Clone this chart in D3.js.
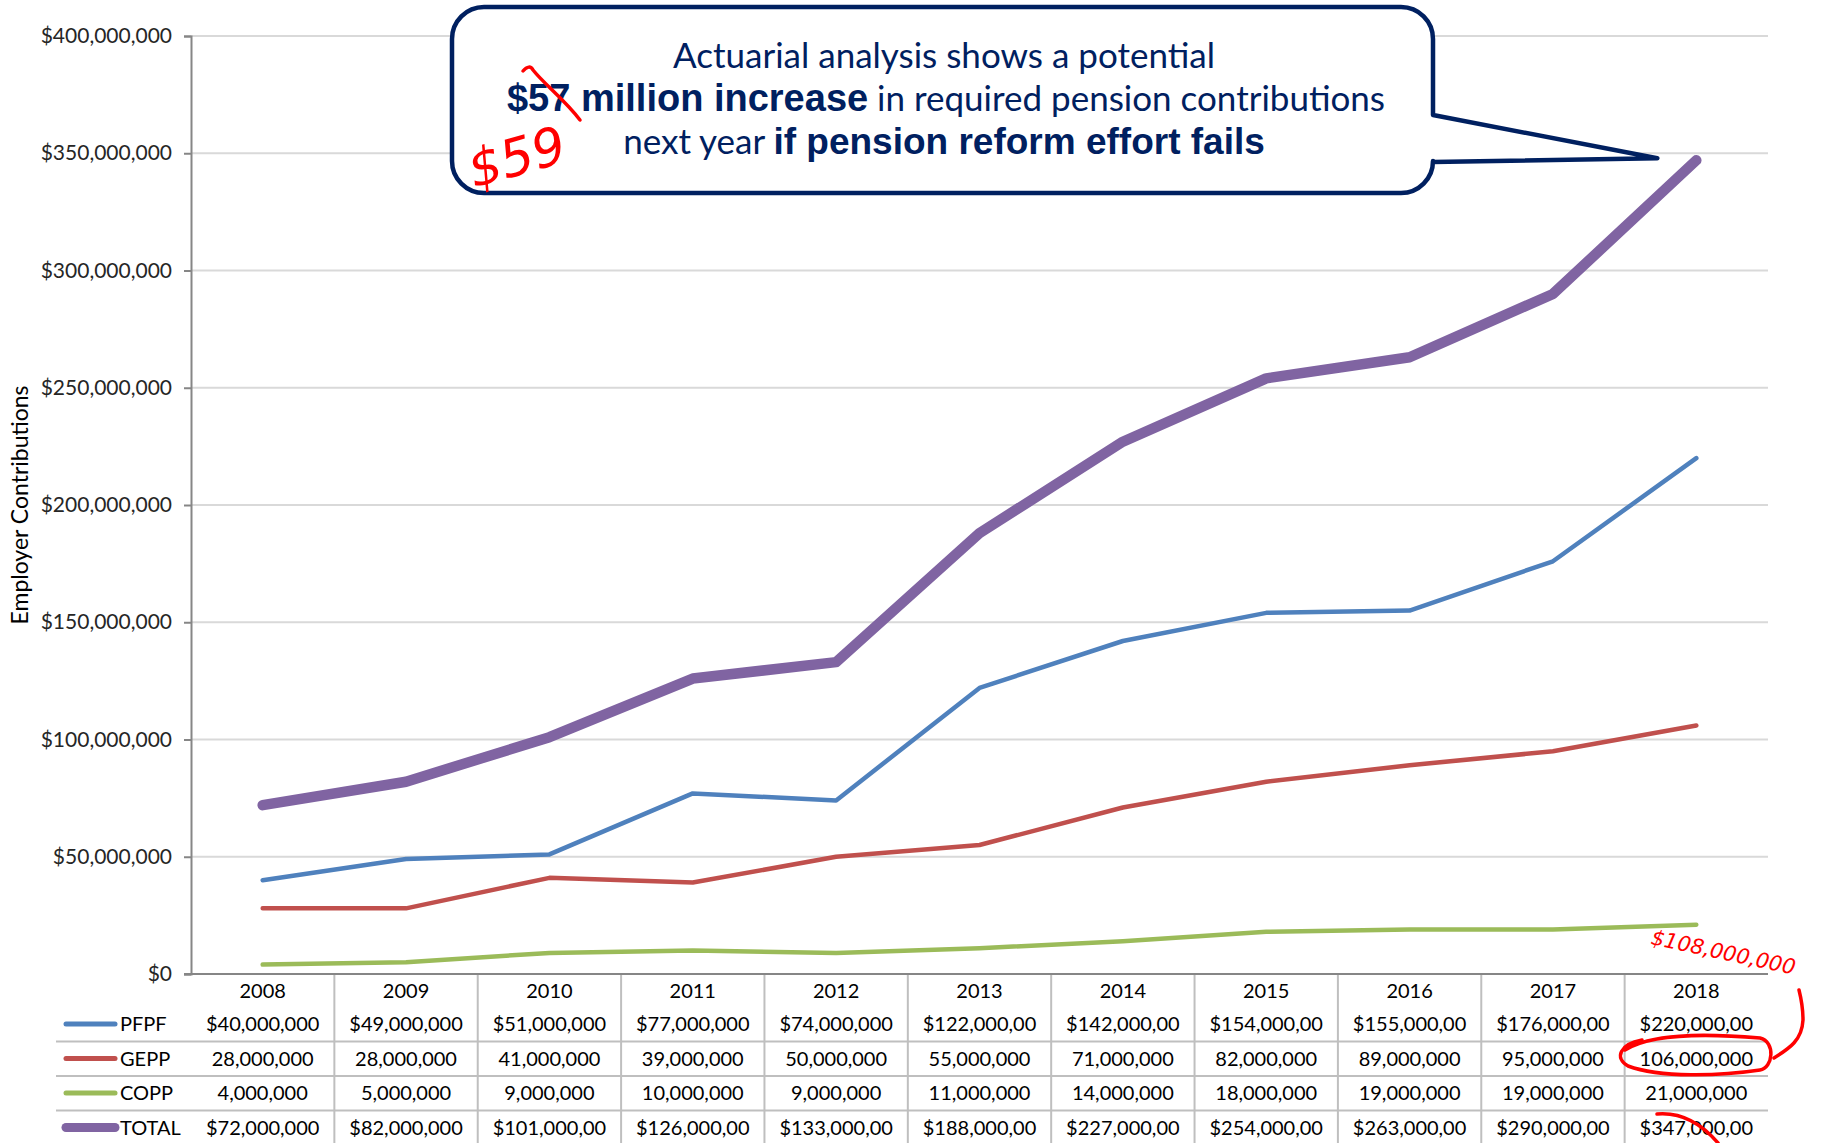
<!DOCTYPE html>
<html>
<head>
<meta charset="utf-8">
<script src="https://cdn.jsdelivr.net/npm/d3@7"></script>
<style>
  body { margin: 0; background: #fff; }
  svg { display: block; }
  .tick text { font-family: "Lato", "Liberation Sans", sans-serif; }
</style>
</head>
<body>
<svg width="1830" height="1143"></svg>
<script>
// data
const years = ['2008','2009','2010','2011','2012','2013','2014','2015','2016','2017','2018'];
const pfpf  = [40, 49, 51, 77, 74, 122, 142, 154, 155, 176, 220].map(d => d * 1e6);
const gepp  = [28, 28, 41, 39, 50, 55, 71, 82, 89, 95, 106].map(d => d * 1e6);
const copp  = [4, 5, 9, 10, 9, 11, 14, 18, 19, 19, 21].map(d => d * 1e6);
const total = [72, 82, 101, 126, 133, 188, 227, 254, 263, 290, 347].map(d => d * 1e6);
const yTicks = [0, 50, 100, 150, 200, 250, 300, 350, 400].map(d => d * 1e6);

const series = [
    {name: 'PFPF',  values: pfpf,  color: '#4f81bd', width: 4.5, dollar: true},
    {name: 'GEPP',  values: gepp,  color: '#c0504d', width: 4.5, dollar: false},
    {name: 'COPP',  values: copp,  color: '#9bbb59', width: 4.5, dollar: false},
    {name: 'TOTAL', values: total, color: '#8064a2', width: 10.5, dollar: true}
];

const svg = d3.select('svg');
const margin = {left: 191, right: 1768, top: 36, bottom: 974};
const tableFont = '"Lato", "Liberation Sans", sans-serif';

const x = d3.scaleBand().domain(years).range([margin.left, margin.right]).padding(0);
const y = d3.scaleLinear().domain([0, 400e6]).range([margin.bottom, margin.top]);
const cx = d => x(d) + x.bandwidth() / 2;

// gridlines
svg.append('g')
    .selectAll('line')
    .data(yTicks.slice(1))
    .enter().append('line')
    .attr('x1', margin.left).attr('x2', margin.right)
    .attr('y1', d => y(d)).attr('y2', d => y(d))
    .style('stroke', '#d9d9d9').style('stroke-width', 2);

// y axis
const yAxis = svg.append('g')
    .attr('transform', `translate(${margin.left},0)`)
    .call(d3.axisLeft(y).tickValues(yTicks).tickSize(7).tickPadding(12)
        .tickFormat(d => '$' + d3.format(',')(d)));
yAxis.select('.domain').style('stroke', '#868686').style('stroke-width', 2);
yAxis.selectAll('.tick line').style('stroke', '#868686').style('stroke-width', 2);
yAxis.selectAll('.tick text').style('font-size', '21px').style('fill', '#262626');

svg.append('text')
    .attr('transform', `translate(28,${(margin.top + margin.bottom) / 2}) rotate(-90)`)
    .attr('text-anchor', 'middle')
    .style('font-family', tableFont).style('font-size', '23px').style('fill', '#000')
    .text('Employer Contributions');

// data table below the axis
const rowY = [1024, 1058.5, 1093, 1127.5];
const headerY = 991;
const rowLines = [1041.5, 1076, 1110.5];

svg.append('g').selectAll('line')
    .data(rowLines)
    .enter().append('line')
    .attr('x1', 56).attr('x2', margin.right)
    .attr('y1', d => d).attr('y2', d => d)
    .style('stroke', '#bfbfbf').style('stroke-width', 2);

svg.append('g').selectAll('line')
    .data(years.slice(1))
    .enter().append('line')
    .attr('x1', d => x(d)).attr('x2', d => x(d))
    .attr('y1', margin.bottom).attr('y2', 1143)
    .style('stroke', '#bfbfbf').style('stroke-width', 2);

// x axis line
svg.append('line')
    .attr('x1', margin.left - 7).attr('x2', margin.right)
    .attr('y1', margin.bottom).attr('y2', margin.bottom)
    .style('stroke', '#868686').style('stroke-width', 2);

svg.append('g').selectAll('text')
    .data(years)
    .enter().append('text')
    .attr('x', cx).attr('y', headerY)
    .attr('dy', '0.35em')
    .attr('text-anchor', 'middle')
    .style('font-family', tableFont).style('font-size', '20px').style('fill', '#000')
    .text(d => d);

const cellMax = x.bandwidth() - 26;
series.forEach((s, i) => {
    const g = svg.append('g');
    g.append('line')
        .attr('x1', 66).attr('x2', 115)
        .attr('y1', rowY[i]).attr('y2', rowY[i])
        .style('stroke', s.color).style('stroke-width', s.name === 'TOTAL' ? 9 : 5)
        .style('stroke-linecap', 'round');
    g.append('text')
        .attr('x', 120).attr('y', rowY[i]).attr('dy', '0.35em')
        .style('font-family', tableFont).style('font-size', '20px').style('fill', '#000')
        .text(s.name);
    g.selectAll('.cell')
        .data(s.values)
        .enter().append('text')
        .attr('class', 'cell')
        .attr('x', (d, j) => cx(years[j])).attr('y', rowY[i]).attr('dy', '0.35em')
        .attr('text-anchor', 'middle')
        .style('font-family', tableFont).style('font-size', '20px').style('fill', '#000')
        .text(d => (s.dollar ? '$' : '') + d3.format(',')(d))
        .each(function () {
            // cells cut the text like the spreadsheet does
            let t = this.textContent;
            while (this.getComputedTextLength() > cellMax && t.length > 1) {
                t = t.slice(0, -1);
                this.textContent = t;
            }
        });
});

// lines
const line = d3.line().x((d, j) => cx(years[j])).y(d => y(d));
svg.append('g').selectAll('path')
    .data(series)
    .enter().append('path')
    .attr('d', d => line(d.values))
    .style('fill', 'none')
    .style('stroke', d => d.color)
    .style('stroke-width', d => d.width)
    .style('stroke-linecap', 'round')
    .style('stroke-linejoin', 'round');

// callout
const L = 452, T = 7, R = 1433, B = 193, r = 32;
const tipX = cx('2018') - 39, tipY = y(total[10]) - 2;
const callout = `M${L + r},${T} H${R - r} A${r},${r} 0 0 1 ${R},${T + r} V115 L${tipX},${tipY} L${R},162 V${B - r} A${r},${r} 0 0 1 ${R - r},${B} H${L + r} A${r},${r} 0 0 1 ${L},${B - r} V${T + r} A${r},${r} 0 0 1 ${L + r},${T} Z`;
svg.append('path')
    .attr('d', callout)
    .style('fill', '#fff').style('stroke', '#002060').style('stroke-width', 4.5)
    .style('stroke-linejoin', 'round');

const navy = '#002060';
const regFont = '"Lato", "Liberation Sans", sans-serif';
const boldFont = '"Liberation Sans Narrow", "Liberation Sans", sans-serif';
svg.append('text').attr('x', 944).attr('y', 68).attr('text-anchor', 'middle')
    .style('font-family', regFont).style('font-size', '35px').style('fill', navy)
    .text('Actuarial analysis shows a potential');
const t2 = svg.append('text').attr('x', 946).attr('y', 111).attr('text-anchor', 'middle')
    .style('fill', navy);
t2.append('tspan').style('font-family', boldFont).style('font-weight', 'bold').style('font-size', '38px')
    .text('$57 million increase');
t2.append('tspan').style('font-family', regFont).style('font-size', '35px')
    .text(' in required pension contributions');
const t3 = svg.append('text').attr('x', 944).attr('y', 154).attr('text-anchor', 'middle')
    .style('fill', navy);
t3.append('tspan').style('font-family', regFont).style('font-size', '35px').text('next year ');
t3.append('tspan').style('font-family', boldFont).style('font-weight', 'bold').style('font-size', '37px')
    .text('if pension reform effort fails');

// red hand-written notes
const red = '#ff0000';
const notes = svg.append('g').style('fill', 'none').style('stroke', red)
    .style('stroke-width', 3.5).style('stroke-linecap', 'round');
notes.append('path').attr('d', 'M523,71 C527,66 531,66 533,70 C545,85 565,100 580,120');
notes.append('path').attr('d', 'M1625,1050 C1650,1034 1700,1033 1760,1038 C1776,1042 1773,1068 1760,1070 C1720,1076 1660,1078 1628,1066 C1614,1058 1620,1044 1642,1040');
notes.append('path').attr('d', 'M1774,1058 C1790,1048 1802,1040 1803,1020 C1803,1008 1801,998 1799,990');
notes.append('path').attr('d', 'M1657,1114 C1680,1112 1700,1122 1718,1143');
svg.append('text')
    .attr('transform', 'translate(474,188) rotate(-16)')
    .style('font-family', '"DejaVu Sans", sans-serif').style('font-style', 'italic')
    .style('font-size', '52px').style('fill', red)
    .text('$59');
svg.append('text')
    .attr('transform', 'translate(1650,944) rotate(12)')
    .style('font-family', '"DejaVu Sans", sans-serif').style('font-style', 'italic')
    .style('font-size', '21px').style('fill', red)
    .text('$108,000,000');
</script>
</body>
</html>
